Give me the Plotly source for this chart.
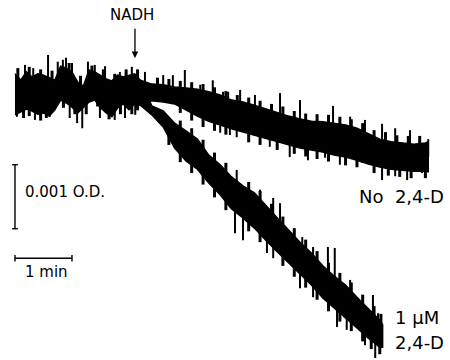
import numpy as np
import plotly.graph_objects as go

# ---- data: time in min, absorbance change in units of 0.001 O.D. (mOD) ----
# common part of the trace (before NADH effect separates the two runs)
t_common = [0.0, 0.1, 0.2, 0.3, 0.4, 0.5, 0.6, 0.7, 0.8, 0.9, 1.0, 1.1,
            1.2, 1.3, 1.4, 1.5, 1.6, 1.7, 1.8, 1.9, 2.0, 2.1, 2.2]
common_top = [0.33, 0.23, 0.36, 0.28, 0.33, 0.31, 0.27, 0.23, 0.45, 0.42, 0.36, 0.20,
              0.14, 0.39, 0.36, 0.30, 0.25, 0.22, 0.31, 0.28, 0.31, 0.33, 0.23]
common_bot = [-0.31, -0.27, -0.22, -0.25, -0.30, -0.28, -0.33, -0.23, -0.08, -0.125, -0.19, -0.28,
              -0.20, -0.11, -0.08, -0.20, -0.28, -0.34, -0.20, -0.14, -0.23, -0.14, -0.16]

# "No 2,4-D" branch
t_ctrl = [2.2, 2.4, 2.6, 2.8, 3.0, 3.2, 3.4, 3.6, 3.8, 4.0, 4.2, 4.4, 4.6, 4.8,
          5.0, 5.2, 5.4, 5.6, 5.8, 6.0, 6.2, 6.4, 6.6, 6.8, 7.0, 7.2, 7.25]
ctrl_top = [0.23, 0.17, 0.16, 0.125, 0.11, 0.09, 0.05, 0.0, -0.08, -0.11, -0.16, -0.22, -0.27, -0.33,
            -0.375, -0.41, -0.42, -0.44, -0.47, -0.52, -0.61, -0.69, -0.73, -0.75, -0.77, -0.75, -0.73]
ctrl_bot = [-0.16, -0.09, -0.11, -0.14, -0.23, -0.33, -0.41, -0.47, -0.53, -0.59, -0.64, -0.69, -0.73, -0.78,
            -0.83, -0.86, -0.89, -0.94, -0.97, -1.02, -1.08, -1.125, -1.16, -1.17, -1.19, -1.19, -1.20]

# "1 uM 2,4-D" branch
t_24d = [2.2, 2.4, 2.6, 2.8, 3.0, 3.2, 3.4, 3.6, 3.8, 4.0, 4.2, 4.4, 4.6, 4.8,
         5.0, 5.2, 5.4, 5.6, 5.8, 6.0, 6.2, 6.4, 6.45]
d24_top = [0.23, -0.17, -0.25, -0.44, -0.56, -0.69, -0.94, -1.09, -1.28, -1.42, -1.53, -1.73, -1.92, -2.11,
           -2.30, -2.47, -2.67, -2.83, -2.97, -3.16, -3.34, -3.52, -3.59]
d24_bot = [-0.16, -0.31, -0.50, -0.83, -1.03, -1.16, -1.375, -1.56, -1.78, -1.92, -2.08, -2.27, -2.45, -2.625,
           -2.80, -2.97, -3.17, -3.33, -3.48, -3.64, -3.80, -3.94, -3.94]

# large noise spikes (time, extreme value)
ctrl_spike_t = [0.175, 0.32, 0.58, 0.75, 0.84, 0.895, 1.0, 1.28, 1.40, 1.58, 1.84, 2.05, 2.28, 2.60,
                2.77, 2.98, 3.25, 3.47, 3.65, 3.74, 3.95, 4.21, 4.65, 5.0, 5.58, 5.88, 6.14, 6.44,
                6.67, 6.93, 7.25,
                0.035, 0.35, 0.61, 0.96, 1.09, 1.18, 1.49, 1.75, 1.93, 2.11, 3.60, 3.77, 3.89,
                4.47, 4.82, 5.14, 5.44, 5.70, 6.09, 6.44, 6.67, 6.88, 7.14]
ctrl_spike_v = [0.47, 0.42, 0.625, 0.52, 0.55, 0.58, 0.50, 0.52, 0.47, 0.45, 0.36, 0.44, 0.36, 0.31,
                0.31, 0.39, 0.16, 0.23, 0.05, 0.05, 0.08, 0.0, 0.03, -0.08, -0.17, -0.34, -0.39, -0.45,
                -0.52, -0.55, -0.69,
                -0.34, -0.39, -0.34, -0.36, -0.44, -0.52, -0.36, -0.39, -0.36, -0.31, -0.59, -0.625, -0.66,
                -0.81, -0.97, -1.02, -0.98, -1.09, -1.06, -1.33, -1.27, -1.33, -1.22]
d24_spike_t = [3.89, 4.30, 4.53, 4.65, 5.04, 5.23, 5.49, 5.61, 5.88, 6.28, 6.37,
               3.86, 4.00, 4.42, 4.53, 5.00, 5.23, 5.65, 5.82, 6.14, 6.32]
d24_spike_v = [-1.17, -1.48, -1.61, -1.69, -2.22, -2.375, -2.375, -2.39, -2.89, -3.125, -3.41,
               -2.16, -2.27, -2.47, -2.55, -3.02, -3.16, -3.625, -3.67, -3.91, -4.11]

# smaller ragged-edge excursions
ctrl_edge_t = [0.05, 0.25, 0.45, 0.65, 0.95, 1.15, 1.35, 1.55, 1.75, 1.95, 2.15,
               2.5, 2.7, 2.9, 3.1, 3.3, 3.5, 3.7, 3.9, 4.1, 4.3, 4.5, 4.7, 4.9, 5.1, 5.3, 5.5,
               5.7, 5.9, 6.1, 6.3, 6.5, 6.7, 6.9, 7.1,
               0.15, 0.25, 0.45, 0.55, 0.85, 1.05, 1.25, 1.45, 1.65, 1.85, 2.05, 2.15,
               2.9, 3.1, 3.3, 3.5, 3.7, 4.1, 4.3, 4.6, 4.9, 5.1, 5.3, 5.5, 5.8, 6.0, 6.3, 6.55,
               6.75, 6.95, 7.2]
ctrl_edge_v = [0.42, 0.44, 0.40, 0.38, 0.50, 0.30, 0.46, 0.40, 0.33, 0.40, 0.40,
               0.27, 0.25, 0.22, 0.20, 0.17, 0.12, 0.06, 0.0, -0.04, -0.09, -0.14, -0.18, -0.25, -0.29, -0.30, -0.31,
               -0.34, -0.38, -0.44, -0.55, -0.58, -0.63, -0.64, -0.64,
               -0.36, -0.33, -0.40, -0.36, -0.20, -0.30, -0.30, -0.18, -0.38, -0.30, -0.30, -0.24,
               -0.28, -0.40, -0.50, -0.56, -0.62, -0.74, -0.78, -0.86, -0.92, -0.96, -1.00, -1.04, -1.10, -1.13, -1.22, -1.26,
               -1.28, -1.30, -1.30]
d24_edge_t = [2.9, 3.1, 3.3, 3.5, 3.7, 4.1, 4.3, 4.5, 4.7, 4.9, 5.1, 5.3, 5.5, 5.7, 5.9, 6.1, 6.3, 6.42,
              2.7, 2.9, 3.1, 3.3, 3.5, 3.7, 4.1, 4.3, 4.7, 4.9, 5.1, 5.3, 5.5, 5.7, 5.9, 6.1, 6.25, 6.4]
d24_edge_v = [-0.40, -0.52, -0.70, -0.90, -1.06, -1.36, -1.50, -1.70, -1.90, -2.08, -2.26, -2.44, -2.62, -2.78,
              -2.93, -3.12, -3.30, -3.42,
              -0.78, -1.05, -1.22, -1.40, -1.60, -1.80, -2.13, -2.30, -2.67, -2.84, -3.01, -3.20, -3.38, -3.54,
              -3.69, -3.85, -3.97, -4.05]

# NADH addition time (min) and scale bars
NADH_T = 2.105
OD_BAR = 1.0      # 0.001 O.D. = 1 mOD
TIME_BAR = 1.0    # 1 min

INK = "#000000"
FONT = "DejaVu Sans"


def band(ts, top, bot):
    return list(ts) + list(ts[::-1]), list(top) + list(bot[::-1])


def spikes(ts, vals, env_t, env_top, env_bot):
    xs, ys = [], []
    for t, v in zip(ts, vals):
        c = (np.interp(t, env_t, env_top) + np.interp(t, env_t, env_bot)) / 2
        xs += [t, t, None]
        ys += [c, v, None]
    return xs, ys


fig = go.Figure()

for ts, top, bot in [(t_common, common_top, common_bot),
                     (t_ctrl, ctrl_top, ctrl_bot),
                     (t_24d, d24_top, d24_bot)]:
    bx, by = band(ts, top, bot)
    fig.add_trace(go.Scatter(x=bx, y=by, mode="lines", fill="toself", fillcolor=INK,
                             line=dict(color=INK, width=1.5), hoverinfo="skip"))

env_t = t_common + t_ctrl[1:]
env_top = common_top + ctrl_top[1:]
env_bot = common_bot + ctrl_bot[1:]
for ts, vs, et, etop, ebot, w in [
        (ctrl_spike_t, ctrl_spike_v, env_t, env_top, env_bot, 2.0),
        (d24_spike_t, d24_spike_v, t_24d, d24_top, d24_bot, 2.0),
        (ctrl_edge_t, ctrl_edge_v, env_t, env_top, env_bot, 3.0),
        (d24_edge_t, d24_edge_v, t_24d, d24_top, d24_bot, 3.0)]:
    sx, sy = spikes(ts, vs, et, etop, ebot)
    fig.add_trace(go.Scatter(x=sx, y=sy, mode="lines", line=dict(color=INK, width=w), hoverinfo="skip"))

# scale bars
od_top = -1.09
fig.add_shape(type="line", x0=0, x1=0, y0=od_top, y1=od_top - OD_BAR, line=dict(color=INK, width=1.4))
for yy in (od_top, od_top - OD_BAR):
    fig.add_shape(type="line", x0=-0.05, x1=0.05, y0=yy, y1=yy, line=dict(color=INK, width=1.4))
tb_y = -2.55
fig.add_shape(type="line", x0=0, x1=TIME_BAR, y0=tb_y, y1=tb_y, line=dict(color=INK, width=1.4))
for xx in (0, TIME_BAR):
    fig.add_shape(type="line", x0=xx, x1=xx, y0=tb_y - 0.05, y1=tb_y + 0.05, line=dict(color=INK, width=1.4))

# NADH arrow and labels
fig.add_annotation(x=NADH_T, y=0.578, ax=NADH_T, ay=1.06, axref="x", ayref="y", text="",
                   showarrow=True, arrowhead=2, arrowsize=1, arrowwidth=1.3, arrowcolor=INK, standoff=0)
fig.add_annotation(x=NADH_T - 0.05, y=1.25, text="NADH", showarrow=False, xanchor="center", yanchor="middle",
                   font=dict(family=FONT, size=15, color=INK))
fig.add_annotation(x=0.14, y=-1.52, text="0.001 O.D.", showarrow=False, xanchor="left", yanchor="middle",
                   font=dict(family=FONT, size=15, color=INK))
fig.add_annotation(x=0.56, y=-2.77, text="1 min", showarrow=False, xanchor="center", yanchor="middle",
                   font=dict(family=FONT, size=15, color=INK))
fig.add_annotation(x=6.0, y=-1.59, text="No\u00a0\u00a02,4-D", showarrow=False, xanchor="left", yanchor="middle",
                   font=dict(family=FONT, size=18, color=INK))
fig.add_annotation(x=6.63, y=-3.47, text="1 \u03bcM", showarrow=False, xanchor="left", yanchor="middle",
                   font=dict(family=FONT, size=18, color=INK))
fig.add_annotation(x=6.63, y=-3.875, text="2,4-D", showarrow=False, xanchor="left", yanchor="middle",
                   font=dict(family=FONT, size=18, color=INK))

fig.update_layout(width=450, height=360, margin=dict(l=0, r=0, t=0, b=0),
                  paper_bgcolor="white", plot_bgcolor="white", showlegend=False)
fig.update_xaxes(range=[-0.263, 7.632], visible=False)
fig.update_yaxes(range=[-4.141, 1.484], visible=False)
fig.write_html("out.html")
